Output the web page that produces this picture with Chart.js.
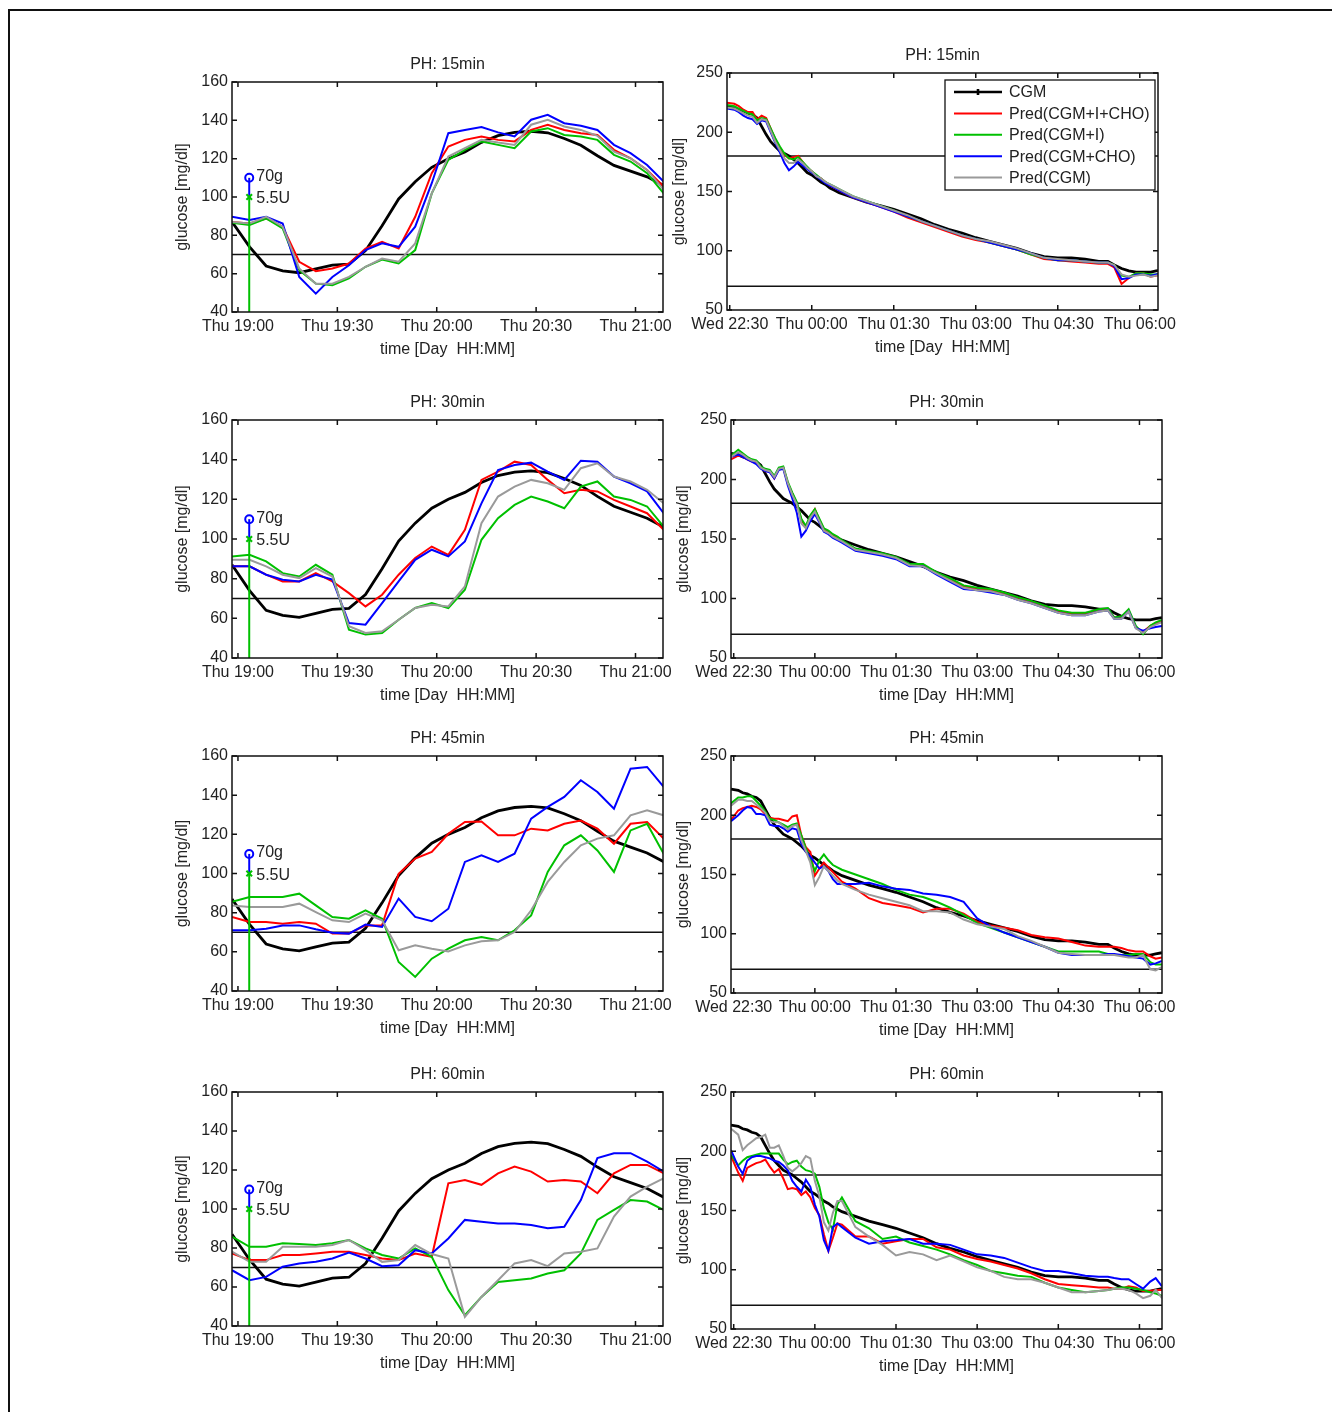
<!DOCTYPE html>
<html>
<head>
<meta charset="utf-8">
<title>Glucose prediction, PH 15-60 min</title>
<script src="https://cdn.jsdelivr.net/npm/chart.js@4.4.0/dist/chart.umd.min.js"></script>
<style>
  body { margin: 0; background: #fff; width: 1332px; height: 1412px; overflow: hidden; position: relative; }
  .frame { position: absolute; left: 8px; top: 9px; width: 1400px; height: 1500px;
           border-top: 2px solid #111; border-left: 2px solid #111; }
</style>
</head>
<body>
<div class="frame"></div>
<script>
// ---- series names / colours ----
const seriesNames = ['CGM', 'Pred(CGM+I+CHO)', 'Pred(CGM+I)', 'Pred(CGM+CHO)', 'Pred(CGM)'];
const seriesColors = ['#000000', '#ff0000', '#00c000', '#0000ff', '#9a9a9a'];

// ---- left column: minutes after Thu 19:00 ----
const leftTime = [-1.8, 3.5, 8.5, 13.5, 18.5, 23.5, 28.5, 33.5, 38.5, 43.5, 48.5, 53.5, 58.5, 63.5,
  68.5, 73.5, 78.5, 83.5, 88.5, 93.5, 98.5, 103.5, 108.5, 113.5, 118.5, 123.5, 128.5];
const leftTicks = [0, 30, 60, 90, 120];
const leftYTicks = [40, 60, 80, 100, 120, 140, 160];
const limitsLeft = [70];

const cgmLeft = [87, 74, 64, 61.5, 60.5, 62.5, 64.5, 65, 72, 85, 99, 108, 115.5, 120, 123.5, 128.5,
  132, 133.7, 134.3, 133.5, 130.5, 127, 121.5, 116.5, 113.5, 110.5, 106];

const ph15LeftRed = [87, 86.2, 88.8, 84.5, 66.2, 61.3, 62.7, 65.3, 73.1, 76.6, 73.1, 89.7, 112.4, 126.3,
  129.8, 131.6, 129.8, 129, 135, 137.7, 135, 133.3, 132.4, 124.6, 120.2, 114.1, 105.4];
const ph15LeftGreen = [86.6, 85.4, 88.8, 83.6, 61.8, 54.8, 54, 57.5, 63.6, 67.4, 65.3, 72.3, 101.9, 119.4,
  124.6, 129, 127.2, 125.5, 134.2, 135.9, 132.4, 131.6, 129.8, 122, 118.5, 112.4, 101.9];
const ph15LeftBlue = [89.7, 88, 89.7, 86.2, 58.3, 49.6, 58.3, 64.4, 72.3, 75.8, 74, 84.5, 107.2, 133.3,
  135, 136.5, 133.7, 131.6, 140.3, 142.9, 138.5, 137.2, 135, 127.2, 122.9, 116.7, 108];
const ph15LeftGray = [87, 86.2, 89.7, 84.5, 62.7, 54.8, 54.8, 58.3, 63.6, 67.9, 66.2, 75.8, 101.9, 121.1,
  125.5, 129.8, 128.4, 127.2, 137.7, 140.3, 136.8, 135, 131.9, 123.7, 120.2, 114.1, 103.7];

const ph30LeftRed = [86.2, 86.2, 82, 78.6, 78.6, 82.8, 78.6, 72.7, 66, 71.9, 82, 90.4, 96.2, 92,
  104.6, 129.8, 134, 139, 137.3, 129.8, 123.1, 124.8, 124, 119.7, 116.4, 113, 104.6];
const ph30LeftGreen = [91.2, 92, 88.7, 82.8, 81.1, 87, 82, 54.3, 51.8, 52.6, 59.3, 65.2, 67.7, 65.2,
  74.4, 99.6, 110.5, 117.2, 121.4, 118.9, 115.5, 126.4, 129, 121.4, 119.7, 116.4, 106.3];
const ph30LeftBlue = [86.2, 86.2, 82, 79.5, 78.6, 82, 79.5, 57.6, 56.8, 67.7, 78.6, 89.5, 94.6, 91.2,
  98.8, 118, 134.8, 137.3, 138.5, 134, 129.8, 139.5, 139, 131.5, 128.1, 124, 113];
const ph30LeftGray = [89.5, 89.5, 86.2, 82, 80.3, 85.3, 81.1, 56, 52.6, 53.5, 59.3, 65.2, 66.9, 66,
  76.1, 108, 121.4, 126.4, 129.8, 128.1, 124.8, 135.7, 138.2, 131.5, 129, 124.8, 118];

const ph45LeftRed = [77.8, 75.2, 75.2, 74.4, 75.2, 74.4, 69.3, 69.3, 73.5, 73.5, 99.9, 107.6, 111, 120.3,
  126.3, 126.6, 119.5, 119.5, 122.9, 122, 125.4, 127, 122.9, 115.2, 125.4, 126.3, 117.8];
const ph45LeftGreen = [85.5, 88, 88, 88, 89.7, 83.7, 77.8, 76.9, 81.2, 76.9, 54.8, 47.2, 56.5, 61.6,
  65.9, 67.6, 65.9, 71, 78.6, 100.8, 114.4, 119.5, 111.8, 100.8, 122, 125.4, 110.1];
const ph45LeftBlue = [71, 71, 71.8, 73.5, 73.5, 71.5, 69.8, 69.3, 73.9, 72.7, 87.2, 77.8, 75.6, 82,
  105.9, 109.3, 105.9, 110.1, 128, 134, 139.1, 147.6, 141.6, 133.1, 153.5, 154.4, 144.2];
const ph45LeftGray = [83.7, 82.9, 82.9, 82.9, 84.6, 80.3, 76.1, 75.2, 79.5, 76.1, 60.8, 63.3, 61.6, 60.2,
  63.3, 65.4, 65.9, 70.1, 81.2, 95.7, 105.9, 114.4, 117.8, 119.5, 129.7, 132.3, 129.7];

const ph60LeftRed = [77.2, 73.8, 73.8, 76.4, 76.4, 77.2, 78.1, 78.1, 76.4, 74.6, 73.8, 77.2, 75.5, 113.2,
  114.9, 112.4, 118.3, 121.8, 119.2, 114.1, 114.9, 114.1, 108.1, 118.3, 122.6, 122.6, 118.3];
const ph60LeftGreen = [85.8, 80.6, 80.6, 82.4, 82, 81.5, 82.4, 84.1, 79.8, 76.4, 74.6, 79.8, 75.5, 58.4,
  45.5, 54.9, 62.6, 63.5, 64.4, 66.9, 68.6, 77.2, 94.4, 99.5, 104.6, 103.8, 99.5];
const ph60LeftBlue = [68.6, 63.5, 65.2, 70.4, 72.1, 72.9, 74.6, 77.6, 74.6, 70.7, 71.2, 78.9, 77.2, 84.9,
  94.4, 93.5, 92.6, 92.6, 91.8, 90.1, 90.9, 104.6, 126.1, 128.6, 128.6, 124.3, 119.2];
const ph60LeftGray = [78.1, 72.9, 72.9, 80.6, 80.6, 80.6, 81.5, 84.1, 78.9, 72.9, 73.8, 81.5, 76.9, 74.6,
  44.7, 54.9, 63.5, 72.1, 73.8, 70.7, 77.2, 78.1, 79.8, 96.1, 106.4, 111.5, 115.8];

// meal / bolus marker
const doseTime = 3.4;
const mealMark = 110;
const bolusMark = 100;
const doseLabels = ['70g', '5.5U'];

// ---- right column: minutes after Wed 22:30 ----
const rightTime = [-3, 5, 10, 15, 20, 25, 30, 35, 40, 45, 50, 55, 60, 65, 70, 75, 80, 85, 90, 95, 100, 105,
  110, 115, 120, 135, 150, 165, 180, 195, 210, 225, 240, 255, 270, 285, 300, 315, 330, 345, 360, 375, 390,
  405, 415, 422, 430, 438, 446, 454, 462, 468, 475];
const rightTicks = [0, 90, 180, 270, 360, 450];
const rightYTicks = [50, 100, 150, 200, 250];
const limitsRight = [70, 180];

const cgmRight = [222, 221, 219, 218, 216, 215, 212, 205, 198, 192, 188, 184, 182, 180, 177, 174, 170, 166,
  164, 161, 158, 156, 153, 151, 149, 145, 141, 138, 135, 131, 127, 122, 118, 115, 111, 108, 105, 102, 98,
  95, 94, 94, 93, 91, 91, 88, 85, 83, 82, 82, 82, 83, 84];

const ph15RightRed = [225, 224, 222, 219, 217, 217, 211, 214, 212, 203, 194, 187, 181, 178, 179, 180, 175,
  170, 167, 163, 161, 158, 155, 153, 151, 145, 141, 137, 133, 128, 124, 120, 116, 112, 109, 107, 104, 101,
  97, 93, 92, 91, 90, 89, 89, 86, 72, 77, 81, 81, 78, 79, 80];
const ph15RightGreen = [223, 222, 220, 218, 216, 215, 210, 212, 211, 203, 195, 188, 182, 178, 177, 179, 175,
  171, 167, 164, 161, 158, 156, 154, 152, 146, 142, 138, 134, 129, 125, 121, 117, 113, 110, 107, 104, 101,
  97, 94, 92, 92, 91, 90, 90, 88, 79, 78, 81, 81, 80, 80, 81];
const ph15RightBlue = [220, 219, 217, 214, 212, 211, 207, 210, 209, 200, 191, 183, 174, 168, 171, 175, 172,
  169, 166, 163, 160, 157, 155, 153, 151, 145, 141, 137, 133, 129, 125, 121, 117, 113, 110, 107, 104, 101,
  98, 94, 92, 92, 91, 90, 90, 87, 76, 77, 80, 80, 79, 80, 81];
const ph15RightGray = [221, 220, 218, 216, 214, 213, 208, 211, 210, 201, 192, 185, 178, 174, 174, 177, 174,
  170, 167, 163, 161, 158, 156, 154, 152, 146, 142, 138, 134, 130, 125, 121, 117, 113, 110, 108, 105, 102,
  98, 94, 93, 92, 91, 90, 90, 88, 80, 78, 79, 80, 78, 79, 80];

const ph30RightRed = [217, 220, 219, 217, 215, 214, 210, 207, 207, 201, 209, 210, 197, 188, 180, 166, 160,
  169, 175, 166, 158, 156, 153, 151, 148, 141, 139, 137, 134, 128, 128, 121, 116, 110, 108, 107, 104, 100,
  97, 93, 89, 87, 87, 90, 91, 84, 84, 90, 76, 72, 77, 79, 81];
const ph30RightGreen = [220, 225, 222, 219, 217, 216, 211, 209, 208, 203, 210, 211, 198, 189, 181, 167, 161,
  170, 175, 167, 159, 157, 154, 152, 149, 142, 140, 138, 135, 129, 129, 122, 117, 111, 109, 108, 105, 101,
  98, 94, 90, 88, 88, 91, 92, 84, 85, 91, 77, 70, 77, 80, 82];
const ph30RightBlue = [219, 221, 219, 217, 215, 213, 209, 207, 206, 201, 208, 209, 195, 184, 172, 152, 157,
  165, 171, 164, 156, 154, 151, 149, 147, 140, 138, 136, 133, 127, 127, 120, 114, 108, 107, 105, 103, 99,
  96, 92, 88, 86, 86, 89, 90, 83, 83, 89, 75, 73, 75, 76, 77];
const ph30RightGray = [219, 223, 221, 218, 216, 215, 210, 208, 207, 202, 209, 210, 197, 187, 179, 163, 159,
  168, 173, 165, 157, 155, 152, 150, 148, 141, 139, 137, 134, 128, 127, 121, 115, 109, 107, 106, 103, 99,
  96, 92, 88, 86, 86, 89, 90, 83, 83, 89, 75, 71, 76, 78, 80];

const ph45RightRed = [196, 204, 206, 207, 208, 207, 205, 201, 198, 197, 197, 196, 195, 199, 200, 183, 173,
  169, 149, 155, 160, 156, 152, 148, 144, 138, 130, 126, 124, 122, 118, 121, 121, 117, 110, 107, 105, 103,
  99, 97, 96, 93, 90, 89, 89, 89, 88, 86, 85, 85, 81, 79, 80];
const ph45RightGreen = [210, 215, 215, 216, 216, 212, 208, 203, 197, 196, 194, 192, 190, 192, 193, 183, 172,
  163, 153, 162, 167, 162, 158, 156, 154, 150, 146, 142, 137, 133, 131, 127, 122, 116, 109, 105, 101, 97,
  93, 89, 85, 85, 85, 85, 83, 82, 82, 82, 83, 83, 76, 74, 74];
const ph45RightBlue = [195, 200, 204, 207, 206, 201, 201, 200, 192, 191, 191, 189, 186, 189, 188, 176, 169,
  165, 160, 155, 157, 153, 146, 142, 142, 142, 143, 140, 138, 137, 134, 133, 131, 127, 113, 106, 101, 97,
  93, 89, 84, 82, 82, 82, 83, 83, 82, 81, 80, 79, 74, 75, 77];
const ph45RightGray = [208, 213, 213, 212, 212, 209, 206, 202, 195, 194, 194, 191, 188, 191, 192, 179, 170,
  160, 141, 148, 157, 153, 149, 145, 142, 137, 133, 130, 127, 124, 119, 119, 118, 112, 108, 106, 104, 98,
  94, 89, 84, 83, 82, 82, 82, 82, 81, 80, 80, 82, 70, 69, 72];

const ph60RightRed = [196, 182, 175, 186, 188, 190, 191, 193, 187, 182, 185, 177, 168, 169, 168, 163, 166,
  161, 152, 146, 130, 116, 127, 139, 138, 128, 128, 122, 124, 126, 126, 119, 117, 112, 109, 107, 104, 101,
  97, 92, 88, 87, 86, 85, 85, 84, 84, 86, 85, 82, 82, 83, 83];
const ph60RightGreen = [197, 188, 192, 195, 196, 197, 198, 198, 198, 198, 198, 193, 189, 191, 192, 187, 184,
  183, 181, 170, 152, 140, 134, 155, 161, 141, 135, 126, 128, 123, 120, 117, 113, 108, 104, 99, 97, 95,
  94, 89, 85, 83, 81, 82, 83, 84, 85, 85, 84, 83, 81, 80, 78];
const ph60RightBlue = [201, 187, 181, 192, 195, 196, 196, 195, 194, 192, 191, 188, 184, 175, 170, 166, 176,
  170, 155, 145, 125, 116, 136, 139, 136, 127, 122, 124, 125, 126, 122, 122, 121, 117, 113, 112, 110, 106,
  102, 99, 99, 97, 95, 94, 94, 93, 92, 92, 88, 84, 90, 93, 86];
const ph60RightGray = [219, 214, 201, 205, 208, 211, 212, 214, 203, 203, 205, 196, 186, 183, 186, 190, 196,
  194, 175, 162, 140, 133, 148, 158, 158, 136, 128, 121, 112, 115, 113, 108, 112, 107, 102, 99, 94, 92,
  92, 89, 85, 81, 81, 82, 83, 84, 84, 83, 80, 76, 78, 83, 76];

// ---- panel layout (plot area in page pixels) ----
const panels = [
  { side: 'L', title: 'PH: 15min', box: [232, 82, 663, 312],   xr: [-1.8, 128.3], preds: [ph15LeftRed, ph15LeftGreen, ph15LeftBlue, ph15LeftGray] },
  { side: 'R', title: 'PH: 15min', box: [727, 73, 1158, 310],  xr: [-3, 470], preds: [ph15RightRed, ph15RightGreen, ph15RightBlue, ph15RightGray], key: true },
  { side: 'L', title: 'PH: 30min', box: [232, 420, 663, 658],  xr: [-1.8, 128.3], preds: [ph30LeftRed, ph30LeftGreen, ph30LeftBlue, ph30LeftGray] },
  { side: 'R', title: 'PH: 30min', box: [731, 420, 1162, 658], xr: [-3, 475], preds: [ph30RightRed, ph30RightGreen, ph30RightBlue, ph30RightGray] },
  { side: 'L', title: 'PH: 45min', box: [232, 756, 663, 991],  xr: [-1.8, 128.3], preds: [ph45LeftRed, ph45LeftGreen, ph45LeftBlue, ph45LeftGray] },
  { side: 'R', title: 'PH: 45min', box: [731, 756, 1162, 993], xr: [-3, 475], preds: [ph45RightRed, ph45RightGreen, ph45RightBlue, ph45RightGray] },
  { side: 'L', title: 'PH: 60min', box: [232, 1092, 663, 1326], xr: [-1.8, 128.3], preds: [ph60LeftRed, ph60LeftGreen, ph60LeftBlue, ph60LeftGray] },
  { side: 'R', title: 'PH: 60min', box: [731, 1092, 1162, 1329], xr: [-3, 475], preds: [ph60RightRed, ph60RightGreen, ph60RightBlue, ph60RightGray] }
];

const FONT = '"Liberation Sans", Arial, Helvetica, sans-serif';
const INK = '#222';
Chart.defaults.font.family = FONT;
Chart.defaults.color = INK;

function pad2(n) { return (n < 10 ? '0' : '') + n; }

// minutes since Wed 00:00 -> "Thu 19:00"
function timeLabel(base, t) {
  const total = base + t;
  const day = total >= 1440 ? 'Thu' : 'Wed';
  const m = total % 1440;
  return day + ' ' + pad2(Math.floor(m / 60)) + ':' + pad2(Math.round(m % 60));
}

// MATLAB style box, inward ticks, title, legend and dose notes
const matlabAxes = {
  id: 'matlabAxes',
  afterDraw(chart, args, opts) {
    const { ctx, chartArea: a, scales: { x, y } } = chart;
    ctx.save();
    ctx.strokeStyle = '#111';
    ctx.lineWidth = 1.5;
    ctx.strokeRect(a.left, a.top, a.right - a.left, a.bottom - a.top);
    ctx.beginPath();
    const len = 5;
    x.ticks.forEach(t => {
      const px = x.getPixelForValue(t.value);
      ctx.moveTo(px, a.bottom); ctx.lineTo(px, a.bottom - len);
      ctx.moveTo(px, a.top); ctx.lineTo(px, a.top + len);
    });
    y.ticks.forEach(t => {
      const py = y.getPixelForValue(t.value);
      ctx.moveTo(a.left, py); ctx.lineTo(a.left + len, py);
      ctx.moveTo(a.right, py); ctx.lineTo(a.right - len, py);
    });
    ctx.stroke();

    ctx.font = '16px ' + FONT;
    ctx.fillStyle = INK;
    ctx.textBaseline = 'middle';

    // axes title centred over the plot box
    ctx.textAlign = 'center';
    ctx.fillText(opts.title, (a.left + a.right) / 2, a.top - 17);
    ctx.textAlign = 'left';

    if (opts.notes) {
      const px = x.getPixelForValue(doseTime) + 7;
      ctx.fillText(doseLabels[0], px, y.getPixelForValue(mealMark) - 1);
      ctx.fillText(doseLabels[1], px, y.getPixelForValue(bolusMark - 1));
    }

    if (opts.key) {
      const bw = 210, bh = 110;
      const bx = a.right - bw - 3, by = a.top + 7;
      ctx.fillStyle = '#fff';
      ctx.fillRect(bx, by, bw, bh);
      ctx.lineWidth = 1.3;
      ctx.strokeStyle = '#111';
      ctx.strokeRect(bx, by, bw, bh);
      seriesNames.forEach((name, i) => {
        const ly = by + 12 + i * 21.4;
        ctx.beginPath();
        ctx.strokeStyle = seriesColors[i];
        ctx.lineWidth = i === 0 ? 2.6 : 2;
        ctx.moveTo(bx + 9, ly); ctx.lineTo(bx + 57, ly);
        if (i === 0) { ctx.moveTo(bx + 33, ly - 3); ctx.lineTo(bx + 33, ly + 3); }
        ctx.stroke();
        ctx.fillStyle = INK;
        ctx.fillText(name, bx + 64, ly + 1);
      });
    }
    ctx.restore();
  }
};

function makePanel(p) {
  const isLeft = p.side === 'L';
  const [x0, y0, x1, y1] = p.box;
  const yW = isLeft ? 59 : 57;
  const padR = 40, topH = 30, botH = 47;
  const W = (x1 - x0) + yW + padR, H = (y1 - y0) + topH + botH;

  const cv = document.createElement('canvas');
  cv.width = W; cv.height = H;
  cv.style.cssText = `position:absolute;left:${x0 - yW}px;top:${y0 - topH}px;width:${W}px;height:${H}px`;
  document.body.appendChild(cv);

  const time = isLeft ? leftTime : rightTime;
  const cgm = isLeft ? cgmLeft : cgmRight;
  const limits = isLeft ? limitsLeft : limitsRight;
  const xTicks = isLeft ? leftTicks : rightTicks;
  const yTicks = isLeft ? leftYTicks : rightYTicks;
  // minutes since Wed 00:00 at x = 0
  const base = isLeft ? 1440 + 19 * 60 : 22 * 60 + 30;
  const pts = vals => time.map((t, i) => ({ x: t, y: vals[i] }));

  const datasets = [];
  [cgm].concat(p.preds).forEach((vals, i) => {
    datasets.push({
      label: seriesNames[i],
      data: pts(vals),
      borderColor: seriesColors[i],
      borderWidth: i === 0 ? 2.8 : 2,
      pointRadius: 0,
      order: 4 - i
    });
  });
  limits.forEach(v => {
    datasets.push({
      data: [{ x: p.xr[0], y: v }, { x: p.xr[1], y: v }],
      borderColor: '#111', borderWidth: 1.5, pointRadius: 0, order: 6
    });
  });
  if (isLeft) {
    datasets.push({
      data: [{ x: doseTime, y: yTicks[0] }, { x: doseTime, y: bolusMark }],
      borderColor: seriesColors[2], borderWidth: 2,
      pointRadius: [0, 4], pointStyle: 'crossRot',
      pointBorderColor: seriesColors[2], pointBorderWidth: 2, order: -2
    });
    datasets.push({
      data: [{ x: doseTime, y: bolusMark }, { x: doseTime, y: mealMark }],
      borderColor: seriesColors[3], borderWidth: 2,
      pointRadius: [0, 4], pointStyle: 'circle',
      pointBackgroundColor: 'rgba(0,0,0,0)',
      pointBorderColor: seriesColors[3], pointBorderWidth: 2, order: -1
    });
  }

  new Chart(cv.getContext('2d'), {
    type: 'line',
    data: { datasets },
    plugins: [matlabAxes],
    options: {
      responsive: false,
      animation: false,
      devicePixelRatio: 1,
      layout: { padding: { left: 0, right: padR, top: topH, bottom: 0 } },
      plugins: {
        legend: { display: false },
        tooltip: { enabled: false },
        title: { display: false },
        matlabAxes: { key: !!p.key, notes: isLeft, title: p.title }
      },
      scales: {
        x: {
          type: 'linear', min: p.xr[0], max: p.xr[1],
          grid: { display: false, drawTicks: false }, border: { display: false },
          afterBuildTicks: s => { s.ticks = xTicks.map(v => ({ value: v })); },
          afterFit: s => { s.height = botH; },
          ticks: {
            autoSkip: false, maxRotation: 0, minRotation: 0, padding: 5,
            font: { size: 16, lineHeight: 1.2 }, color: INK,
            callback: v => timeLabel(base, v)
          },
          title: {
            display: true, text: 'time [Day  HH:MM]', color: INK,
            font: { size: 16, lineHeight: 1.2 }, padding: { top: 0, bottom: 0 }
          }
        },
        y: {
          min: yTicks[0], max: yTicks[yTicks.length - 1],
          grid: { display: false, drawTicks: false }, border: { display: false },
          afterBuildTicks: s => { s.ticks = yTicks.map(v => ({ value: v })); },
          afterFit: s => { s.width = yW; },
          ticks: { padding: 4, font: { size: 16, lineHeight: 1.2 }, color: INK },
          title: {
            display: true, text: 'glucose [mg/dl]', color: INK,
            font: { size: 16, lineHeight: 1.2 }, padding: { top: 0, bottom: 0 }
          }
        }
      }
    }
  });
}

panels.forEach(makePanel);
</script>
</body>
</html>
